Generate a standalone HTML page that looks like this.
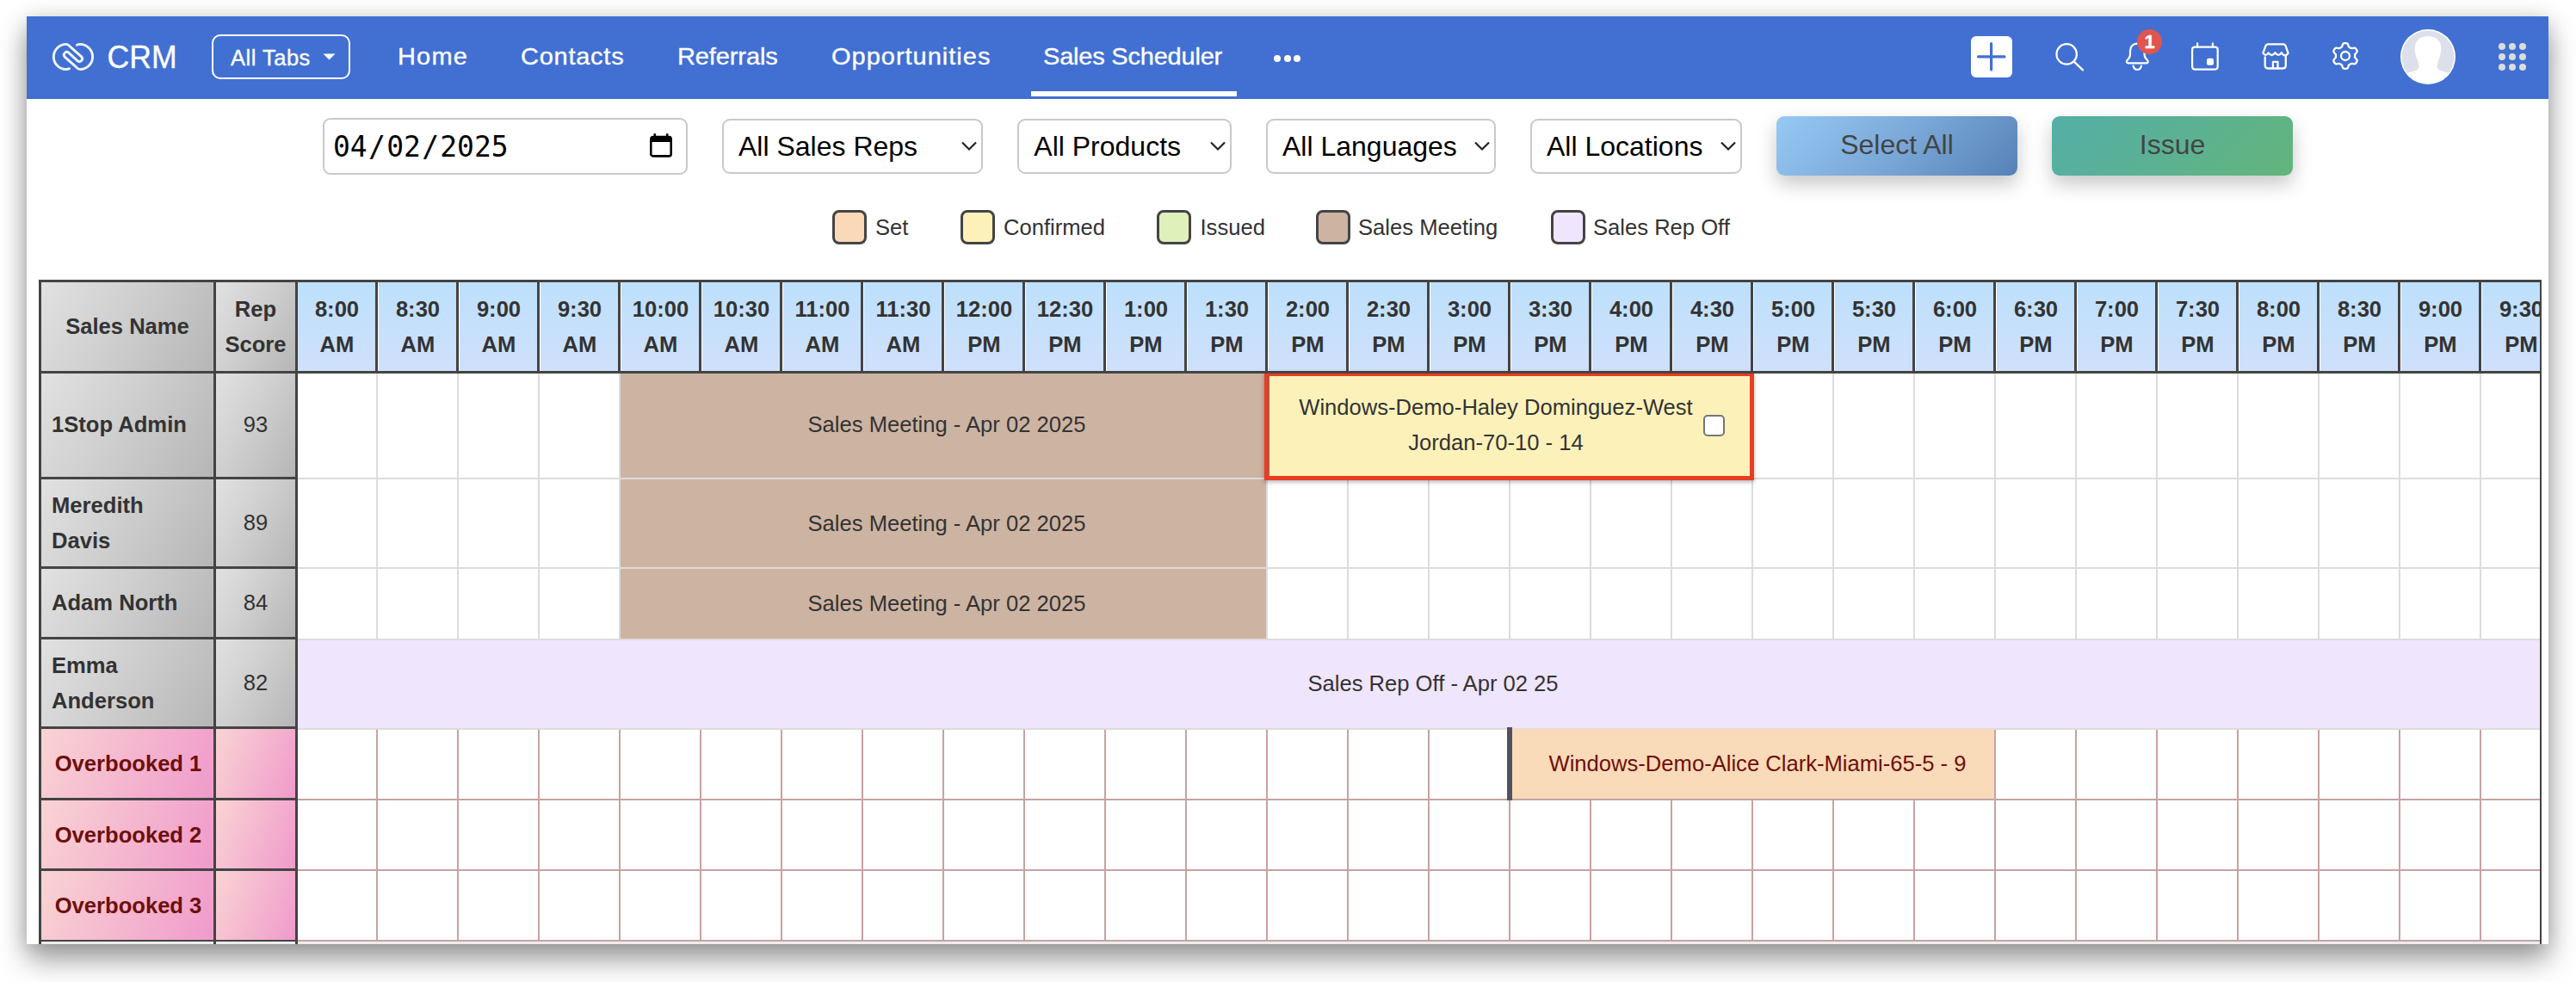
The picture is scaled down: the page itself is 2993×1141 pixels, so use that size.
<!DOCTYPE html>
<html lang="en"><head><meta charset="utf-8"><title>Sales Scheduler</title>
<style>
*{box-sizing:border-box;margin:0;padding:0}
html,body{width:2993px;height:1141px;background:#fff;overflow:hidden}
body{position:relative;font-family:"Liberation Sans",sans-serif;color:#333}
.win{position:absolute;left:31px;top:19px;width:2930px;height:1078px;background:#fff;overflow:hidden}
.shadow{position:absolute;left:31px;top:19px;width:2930px;height:1078px;box-shadow:0 18px 31px rgba(0,0,0,.39),0 0 22px rgba(0,0,0,.13)}
.abs{position:absolute}
.nav{position:absolute;left:0;top:0;width:2930px;height:96px;background:#4170d2}
.nav .t{position:absolute;color:#fff;white-space:nowrap;line-height:1;-webkit-text-stroke:.35px #fff}
.ctl{position:absolute;border:2px solid #c9c9c9;border-radius:9px;background:#fff;color:#000;white-space:nowrap}
.ctl span{position:absolute;line-height:1}
.ctl i{font-style:normal;padding:0 1.25px}
.btn{position:absolute;border-radius:9px;color:#444;font-size:32px;text-align:center;white-space:nowrap;box-shadow:0 10px 22px rgba(0,0,0,.22)}
.lg{position:absolute;width:40px;height:40px;border:3px solid #444;border-radius:8px}
.lt{position:absolute;font-size:25.6px;line-height:1;color:#333;white-space:nowrap}
.tw{position:absolute;overflow:hidden;background:#fff}
.c{position:absolute;display:flex;align-items:center;justify-content:center;text-align:center;font-size:25.6px;line-height:40.96px;color:#333;white-space:nowrap}
.b{font-weight:bold}
.hg{background:linear-gradient(120deg,#e1e1e1 0%,#cfcfcf 45%,#b6b6b6 100%)}
.hb{background:linear-gradient(180deg,#bde0fc 0%,#cfe0fb 100%)}
.pk{background:linear-gradient(112deg,#f9d4d3 0%,#f4b4cf 55%,#f09acb 100%);color:#6e0f0a;padding-left:2px;padding-top:1.5px}
.d{position:absolute;background:#444}
.l{position:absolute;background:#dcdcdc}
.p{position:absolute;background:#c7a2a2}
.left{justify-content:flex-start;text-align:left;padding-left:12px}
</style></head><body>
<div class="shadow"></div>
<div class="win">
<div class="nav">
<svg class="abs" style="left:19px;top:16px" width="70" height="62" viewBox="0 0 70 62" fill="none" stroke="#f1f4fc" stroke-width="2.9" stroke-linecap="round" stroke-linejoin="round"><path d="M30.6 44.7Q28.5 45.6 26.9 45.6A14.6 14.6 0 0 1 12.3 31A14.6 14.6 0 0 1 26.9 16.4C29.2 16.4 30.7 18.4 32.2 19.8L44.7 30.9A3.35 3.35 0 0 1 40.3 35.9L29.6 26.1A3.35 3.35 0 0 0 25.2 31.1L37.7 42.2C39.2 43.6 40.7 45.6 43 45.6A14.6 14.6 0 0 0 57.6 31A14.6 14.6 0 0 0 43 16.4Q41 16.4 39.3 17.2"/></svg>
<div class="t" style="left:93.5px;top:28px;font-size:35.6px;line-height:38px;transform:scaleY(1.06)">CRM</div>
<div class="abs" style="left:215px;top:21px;width:161px;height:52px;border:2px solid #fff;border-radius:10px"></div>
<div class="t" style="left:237px;top:34px;font-size:25.5px;line-height:28px;letter-spacing:.5px">All Tabs</div>
<svg class="abs" style="left:344px;top:43px" width="16" height="8" viewBox="0 0 16 8"><path d="M0.5 0.5h14L7.5 7.5z" fill="#fff"/></svg>
<div class="t" style="left:430.5px;top:31px;font-size:27.4px;line-height:32px;letter-spacing:1.13px;transform:scaleX(1.058);transform-origin:0 50%">Home</div>
<div class="t" style="left:573.8px;top:31px;font-size:27.4px;line-height:32px;letter-spacing:0.71px;transform:scaleX(1.058);transform-origin:0 50%">Contacts</div>
<div class="t" style="left:755.5px;top:31px;font-size:27.4px;line-height:32px;letter-spacing:-0.10px;transform:scaleX(1.058);transform-origin:0 50%">Referrals</div>
<div class="t" style="left:934.5px;top:31px;font-size:27.4px;line-height:32px;letter-spacing:0.95px;transform:scaleX(1.058);transform-origin:0 50%">Opportunities</div>
<div class="t" style="left:1181.3px;top:31px;font-size:27.4px;line-height:32px;letter-spacing:-0.19px;transform:scaleX(1.058);transform-origin:0 50%">Sales Scheduler</div>
<div class="abs" style="left:1166.5px;top:87px;width:239px;height:6px;background:#fff"></div>
<div class="abs" style="left:1448.6px;top:45px;width:8px;height:8px;border-radius:50%;background:#fff"></div>
<div class="abs" style="left:1460.5px;top:45px;width:8px;height:8px;border-radius:50%;background:#fff"></div>
<div class="abs" style="left:1472.4px;top:45px;width:8px;height:8px;border-radius:50%;background:#fff"></div>
<div class="abs" style="left:2259px;top:23px;width:48px;height:48px;border-radius:6px;background:#fff"></div>
<svg class="abs" style="left:2259px;top:23px" width="48" height="48" viewBox="0 0 48 48" stroke="#4170d2" stroke-width="3.2" stroke-linecap="round"><path d="M8.5 23.8H39M23.6 8.5V39"/></svg>
<svg class="abs" style="left:2349px;top:21px" width="50" height="50" viewBox="0 0 50 50" fill="none" stroke="#fff" stroke-width="2.2" stroke-linecap="round"><circle cx="21.2" cy="22.9" r="11.7"/><path d="M29.6 31.4L40 41.4"/></svg>
<svg class="abs" style="left:2429px;top:21px" width="50" height="50" viewBox="0 0 50 50" fill="none" stroke="#fff" stroke-width="2.2" stroke-linecap="round" stroke-linejoin="round"><path d="M23.3 10.6c-5 0-8.3 3.6-8.3 8.6v4.2c0 3-1.4 4.6-3.4 6.6c-1.4 1.4-.8 3.4 1.3 3.4h20.8c2.1 0 2.7-2 1.3-3.4c-2-2-3.4-3.6-3.4-6.6v-4.2c0-5-3.3-8.6-8.3-8.6z"/><path d="M18.6 36.6c.6 2.8 2.4 4.4 4.7 4.4s4.1-1.6 4.7-4.4"/></svg>
<div class="abs" style="left:2452px;top:15.399999999999999px;width:29px;height:29px;border-radius:50%;background:#e0554f"></div>
<div class="t b" style="left:2452px;top:19px;width:29px;text-align:center;font-size:22px;line-height:22px">1</div>
<svg class="abs" style="left:2509px;top:25px" width="44" height="44" viewBox="0 0 44 44" fill="none" stroke="#fff" stroke-width="2.2" stroke-linecap="round"><rect x="7.1" y="10.6" width="29.6" height="26" rx="3"/><path d="M13.1 6.3v4M30.9 6.3v4"/><rect x="24" y="23.7" width="8" height="8" rx="2" fill="#fff" stroke="none"/></svg>
<svg class="abs" style="left:2589px;top:25px" width="48" height="44" viewBox="0 0 48 44" fill="none" stroke="#fff" stroke-width="2.3" stroke-linecap="round" stroke-linejoin="round"><path d="M9.4 17.6L12.3 9.600Q13.100 7.400 15.400 7.400H32.600Q34.900 7.400 35.700 9.600L38.600 17.900Q34.800 23.200 30.800 17.300Q27.200 22.600 23.500 17.300Q19.500 22.600 15.500 17.500Q12.500 22.300 9.400 17.600Z"/><path d="M11.700 22.500V32Q11.700 35.500 15.200 35.500H32.300Q35.800 35.500 35.800 32V21.500"/><path d="M20.900 35.300V27.900H26.500V35.300"/></svg>
<svg class="abs" style="left:2672px;top:24.4px" width="44" height="44" viewBox="0 0 44 44" fill="none" stroke="#fff" stroke-width="2.3" stroke-linejoin="round"><path d="M33.1 22.0L33.1 22.6L33.1 23.2L33.2 23.8L33.7 24.5L34.6 25.4L35.4 26.4L35.7 27.2L35.5 28.0L35.3 28.8L34.9 29.4L34.5 30.1L34.0 30.7L33.4 31.2L32.5 31.4L31.2 31.2L30.0 30.9L29.2 30.8L28.6 31.0L28.1 31.3L27.6 31.6L27.0 31.9L26.5 32.2L26.1 32.6L25.7 33.3L25.4 34.6L24.9 35.8L24.3 36.4L23.5 36.7L22.8 36.9L22.0 36.9L21.2 36.9L20.5 36.7L19.7 36.4L19.1 35.8L18.6 34.6L18.3 33.3L17.9 32.6L17.5 32.2L17.0 31.9L16.5 31.6L15.9 31.3L15.4 31.0L14.8 30.8L14.0 30.9L12.8 31.2L11.5 31.4L10.6 31.2L10.0 30.7L9.5 30.1L9.1 29.4L8.7 28.8L8.5 28.0L8.3 27.2L8.6 26.4L9.4 25.4L10.3 24.5L10.8 23.8L10.9 23.2L10.9 22.6L10.9 22.0L10.9 21.4L10.9 20.8L10.8 20.2L10.3 19.5L9.4 18.6L8.6 17.6L8.3 16.8L8.5 16.0L8.7 15.2L9.1 14.5L9.5 13.9L10.0 13.3L10.6 12.8L11.5 12.6L12.8 12.8L14.0 13.1L14.8 13.2L15.4 13.0L15.9 12.7L16.4 12.4L17.0 12.1L17.5 11.8L17.9 11.4L18.3 10.7L18.6 9.4L19.1 8.2L19.7 7.6L20.5 7.3L21.2 7.1L22.0 7.1L22.8 7.1L23.5 7.3L24.3 7.6L24.9 8.2L25.4 9.4L25.7 10.7L26.1 11.4L26.5 11.8L27.0 12.1L27.6 12.4L28.1 12.7L28.6 13.0L29.2 13.2L30.0 13.1L31.2 12.8L32.5 12.6L33.4 12.8L34.0 13.3L34.5 13.9L34.9 14.5L35.3 15.2L35.5 16.0L35.7 16.8L35.4 17.6L34.6 18.6L33.7 19.5L33.2 20.2L33.1 20.8L33.1 21.4Z"/><circle cx="22" cy="22" r="5"/></svg>
<svg class="abs" style="left:2756px;top:13px" width="68" height="68" viewBox="0 0 68 68"><defs><clipPath id="av"><circle cx="34" cy="34" r="30.4"/></clipPath></defs><circle cx="34" cy="34" r="32" fill="#fff"/><circle cx="34" cy="34" r="30.4" fill="#dde0ea"/><g clip-path="url(#av)" fill="#fff"><path d="M34 10c-9 0-15.8 5.500-15.3 15c.3 5.500 1.600 9.500 3.100 13c1 2.500 1.800 5.500 1.700 7.500c-.2 2-1.500 3.500-3.500 4.300c-3.500 1.400-8 2-12 4l-4 14h60l-4-14c-4-2-8.500-2.600-12-4c-2-.8-3.300-2.300-3.500-4.300c-.1-2 .7-5 1.700-7.500c1.500-3.500 2.800-7.500 3.100-13c.5-9.500-6.300-15-15.300-15z"/></g></svg>
<div class="abs" style="left:2871.8px;top:30.8px;width:8.4px;height:8.4px;border-radius:50%;background:#dcdcdc"></div>
<div class="abs" style="left:2883.9px;top:30.8px;width:8.4px;height:8.4px;border-radius:50%;background:#dcdcdc"></div>
<div class="abs" style="left:2895.9px;top:30.8px;width:8.4px;height:8.4px;border-radius:50%;background:#dcdcdc"></div>
<div class="abs" style="left:2871.8px;top:42.8px;width:8.4px;height:8.4px;border-radius:50%;background:#dcdcdc"></div>
<div class="abs" style="left:2883.9px;top:42.8px;width:8.4px;height:8.4px;border-radius:50%;background:#dcdcdc"></div>
<div class="abs" style="left:2895.9px;top:42.8px;width:8.4px;height:8.4px;border-radius:50%;background:#dcdcdc"></div>
<div class="abs" style="left:2871.8px;top:54.8px;width:8.4px;height:8.4px;border-radius:50%;background:#dcdcdc"></div>
<div class="abs" style="left:2883.9px;top:54.8px;width:8.4px;height:8.4px;border-radius:50%;background:#dcdcdc"></div>
<div class="abs" style="left:2895.9px;top:54.8px;width:8.4px;height:8.4px;border-radius:50%;background:#dcdcdc"></div>
</div>
<div class="ctl" style="left:344px;top:118px;width:424px;height:66px"><span style="left:10px;top:15px;font-family:'DejaVu Sans Mono','Liberation Mono',monospace;font-size:33px;line-height:34px">04<i>/</i>02<i>/</i>2025</span><svg class="abs" style="left:376px;top:15px" width="30" height="32" viewBox="0 0 30 32"><path d="M7.8 1.2v5M22.2 1.2v5" stroke="#000" stroke-width="2.6"/><rect x="3.3" y="5" width="23.4" height="22.4" rx="2.5" fill="none" stroke="#000" stroke-width="2.6"/><rect x="3" y="5" width="24" height="6" fill="#000"/></svg></div>
<div class="ctl" style="left:808px;top:119px;width:303px;height:64px"><span style="left:17px;top:14px;font-size:32px;line-height:32px">All Sales Reps</span><svg class="abs" style="left:275px;top:24px" width="20" height="12" viewBox="0 0 20 12" fill="none" stroke="#222" stroke-width="2.2"><path d="M2 1.500L10 9.500L18 1.500"/></svg></div>
<div class="ctl" style="left:1151px;top:119px;width:248.5px;height:64px"><span style="left:17.3px;top:14px;font-size:32px;line-height:32px">All Products</span><svg class="abs" style="left:220.5px;top:24px" width="20" height="12" viewBox="0 0 20 12" fill="none" stroke="#222" stroke-width="2.2"><path d="M2 1.500L10 9.500L18 1.500"/></svg></div>
<div class="ctl" style="left:1440px;top:119px;width:267px;height:64px"><span style="left:17px;top:14px;font-size:32px;line-height:32px">All Languages</span><svg class="abs" style="left:239px;top:24px" width="20" height="12" viewBox="0 0 20 12" fill="none" stroke="#222" stroke-width="2.2"><path d="M2 1.500L10 9.500L18 1.500"/></svg></div>
<div class="ctl" style="left:1747px;top:119px;width:245.70000000000005px;height:64px"><span style="left:17px;top:14px;font-size:32px;line-height:32px">All Locations</span><svg class="abs" style="left:217.70000000000005px;top:24px" width="20" height="12" viewBox="0 0 20 12" fill="none" stroke="#222" stroke-width="2.2"><path d="M2 1.500L10 9.500L18 1.500"/></svg></div>
<div class="btn" style="left:2033px;top:116px;width:280px;height:69px;line-height:67px;background:linear-gradient(135deg,#97c9f5 0%,#79a7d7 52%,#5681b7 100%)">Select All</div>
<div class="btn" style="left:2353px;top:116px;width:280px;height:69px;line-height:67px;background:linear-gradient(135deg,#54afa7 0%,#5cb192 52%,#63b57a 100%)">Issue</div>
<div class="lg" style="left:936px;top:225px;background:#f9d9b8"></div>
<div class="lt" style="left:986px;top:233px">Set</div>
<div class="lg" style="left:1085px;top:225px;background:#fdf1b9"></div>
<div class="lt" style="left:1135px;top:233px">Confirmed</div>
<div class="lg" style="left:1313px;top:225px;background:#dff0bb"></div>
<div class="lt" style="left:1363.5px;top:233px">Issued</div>
<div class="lg" style="left:1498px;top:225px;background:#cdb3a2"></div>
<div class="lt" style="left:1547px;top:233px">Sales Meeting</div>
<div class="lg" style="left:1771px;top:225px;background:#efe5fc"></div>
<div class="lt" style="left:1820px;top:233px">Sales Rep Off</div>
<div class="tw" style="left:14px;top:306px;width:2908px;height:816px">
<div class="c b hg" style="left:3px;top:3px;width:200px;height:103px">Sales Name</div>
<div class="c b hg" style="left:206px;top:3px;width:92px;height:103px">Rep<br>Score</div>
<div class="c b hb" style="left:301px;top:3px;width:91px;height:103px">8:00<br>AM</div>
<div class="c b hb" style="left:395px;top:3px;width:91px;height:103px">8:30<br>AM</div>
<div class="c b hb" style="left:489px;top:3px;width:91px;height:103px">9:00<br>AM</div>
<div class="c b hb" style="left:583px;top:3px;width:91px;height:103px">9:30<br>AM</div>
<div class="c b hb" style="left:677px;top:3px;width:91px;height:103px">10:00<br>AM</div>
<div class="c b hb" style="left:771px;top:3px;width:91px;height:103px">10:30<br>AM</div>
<div class="c b hb" style="left:865px;top:3px;width:91px;height:103px">11:00<br>AM</div>
<div class="c b hb" style="left:959px;top:3px;width:91px;height:103px">11:30<br>AM</div>
<div class="c b hb" style="left:1053px;top:3px;width:91px;height:103px">12:00<br>PM</div>
<div class="c b hb" style="left:1147px;top:3px;width:91px;height:103px">12:30<br>PM</div>
<div class="c b hb" style="left:1241px;top:3px;width:91px;height:103px">1:00<br>PM</div>
<div class="c b hb" style="left:1335px;top:3px;width:91px;height:103px">1:30<br>PM</div>
<div class="c b hb" style="left:1429px;top:3px;width:91px;height:103px">2:00<br>PM</div>
<div class="c b hb" style="left:1523px;top:3px;width:91px;height:103px">2:30<br>PM</div>
<div class="c b hb" style="left:1617px;top:3px;width:91px;height:103px">3:00<br>PM</div>
<div class="c b hb" style="left:1711px;top:3px;width:91px;height:103px">3:30<br>PM</div>
<div class="c b hb" style="left:1805px;top:3px;width:91px;height:103px">4:00<br>PM</div>
<div class="c b hb" style="left:1899px;top:3px;width:91px;height:103px">4:30<br>PM</div>
<div class="c b hb" style="left:1993px;top:3px;width:91px;height:103px">5:00<br>PM</div>
<div class="c b hb" style="left:2087px;top:3px;width:91px;height:103px">5:30<br>PM</div>
<div class="c b hb" style="left:2181px;top:3px;width:91px;height:103px">6:00<br>PM</div>
<div class="c b hb" style="left:2275px;top:3px;width:91px;height:103px">6:30<br>PM</div>
<div class="c b hb" style="left:2369px;top:3px;width:91px;height:103px">7:00<br>PM</div>
<div class="c b hb" style="left:2463px;top:3px;width:91px;height:103px">7:30<br>PM</div>
<div class="c b hb" style="left:2557px;top:3px;width:91px;height:103px">8:00<br>PM</div>
<div class="c b hb" style="left:2651px;top:3px;width:91px;height:103px">8:30<br>PM</div>
<div class="c b hb" style="left:2745px;top:3px;width:91px;height:103px">9:00<br>PM</div>
<div class="c b hb" style="left:2839px;top:3px;width:91px;height:103px">9:30<br>PM</div>
<div class="c" style="left:676px;top:109px;width:750px;height:121px;background:#cdb3a2;padding-left:8px;padding-bottom:2px;">Sales Meeting - Apr 02 2025</div>
<div class="c" style="left:676px;top:232px;width:750px;height:102px;background:#cdb3a2;padding-left:8px;">Sales Meeting - Apr 02 2025</div>
<div class="c" style="left:676px;top:336px;width:750px;height:81px;background:#cdb3a2;padding-left:8px;">Sales Meeting - Apr 02 2025</div>
<div class="c" style="left:301px;top:419px;width:2632px;height:102px;background:#efe5fc;padding-left:6px;padding-bottom:1px">Sales Rep Off - Apr 02 25</div>
<div class="l" style="left:392px;top:109px;width:2px;height:310px"></div>
<div class="p" style="left:392px;top:523px;width:2px;height:293px"></div>
<div class="l" style="left:486px;top:109px;width:2px;height:310px"></div>
<div class="p" style="left:486px;top:523px;width:2px;height:293px"></div>
<div class="l" style="left:580px;top:109px;width:2px;height:310px"></div>
<div class="p" style="left:580px;top:523px;width:2px;height:293px"></div>
<div class="l" style="left:674px;top:109px;width:2px;height:310px"></div>
<div class="p" style="left:674px;top:523px;width:2px;height:293px"></div>
<div class="p" style="left:768px;top:523px;width:2px;height:293px"></div>
<div class="p" style="left:862px;top:523px;width:2px;height:293px"></div>
<div class="p" style="left:956px;top:523px;width:2px;height:293px"></div>
<div class="p" style="left:1050px;top:523px;width:2px;height:293px"></div>
<div class="p" style="left:1144px;top:523px;width:2px;height:293px"></div>
<div class="p" style="left:1238px;top:523px;width:2px;height:293px"></div>
<div class="p" style="left:1332px;top:523px;width:2px;height:293px"></div>
<div class="l" style="left:1426px;top:109px;width:2px;height:310px"></div>
<div class="p" style="left:1426px;top:523px;width:2px;height:293px"></div>
<div class="l" style="left:1520px;top:109px;width:2px;height:310px"></div>
<div class="p" style="left:1520px;top:523px;width:2px;height:293px"></div>
<div class="l" style="left:1614px;top:109px;width:2px;height:310px"></div>
<div class="p" style="left:1614px;top:523px;width:2px;height:293px"></div>
<div class="l" style="left:1708px;top:109px;width:2px;height:310px"></div>
<div class="p" style="left:1708px;top:523px;width:2px;height:293px"></div>
<div class="l" style="left:1802px;top:109px;width:2px;height:310px"></div>
<div class="p" style="left:1802px;top:523px;width:2px;height:293px"></div>
<div class="l" style="left:1896px;top:109px;width:2px;height:310px"></div>
<div class="p" style="left:1896px;top:523px;width:2px;height:293px"></div>
<div class="l" style="left:1990px;top:109px;width:2px;height:310px"></div>
<div class="p" style="left:1990px;top:523px;width:2px;height:293px"></div>
<div class="l" style="left:2084px;top:109px;width:2px;height:310px"></div>
<div class="p" style="left:2084px;top:523px;width:2px;height:293px"></div>
<div class="l" style="left:2178px;top:109px;width:2px;height:310px"></div>
<div class="p" style="left:2178px;top:523px;width:2px;height:293px"></div>
<div class="l" style="left:2272px;top:109px;width:2px;height:310px"></div>
<div class="p" style="left:2272px;top:523px;width:2px;height:293px"></div>
<div class="l" style="left:2366px;top:109px;width:2px;height:310px"></div>
<div class="p" style="left:2366px;top:523px;width:2px;height:293px"></div>
<div class="l" style="left:2460px;top:109px;width:2px;height:310px"></div>
<div class="p" style="left:2460px;top:523px;width:2px;height:293px"></div>
<div class="l" style="left:2554px;top:109px;width:2px;height:310px"></div>
<div class="p" style="left:2554px;top:523px;width:2px;height:293px"></div>
<div class="l" style="left:2648px;top:109px;width:2px;height:310px"></div>
<div class="p" style="left:2648px;top:523px;width:2px;height:293px"></div>
<div class="l" style="left:2742px;top:109px;width:2px;height:310px"></div>
<div class="p" style="left:2742px;top:523px;width:2px;height:293px"></div>
<div class="l" style="left:2836px;top:109px;width:2px;height:310px"></div>
<div class="p" style="left:2836px;top:523px;width:2px;height:293px"></div>
<div class="l" style="left:301px;top:230px;width:2700px;height:2px"></div>
<div class="l" style="left:301px;top:334px;width:2700px;height:2px"></div>
<div class="l" style="left:301px;top:417px;width:2700px;height:2px"></div>
<div class="l" style="left:301px;top:521px;width:2700px;height:2px"></div>
<div class="p" style="left:301px;top:603px;width:2700px;height:2px"></div>
<div class="p" style="left:301px;top:685px;width:2700px;height:2px"></div>
<div class="p" style="left:301px;top:767px;width:2700px;height:2px"></div>
<div class="c" style="left:1712px;top:522px;width:560px;height:81px;background:#f9dab9;color:#6e0f0a;padding-left:10px">Windows-Demo-Alice Clark-Miami-65-5 - 9</div>
<div class="abs" style="left:1706px;top:520px;width:6px;height:85px;background:#53525f"></div>
<div class="abs" style="left:1424px;top:107px;width:569px;height:126px;background:#fdf1ba;border:5px solid #e93d22;box-shadow:0 2px 5px rgba(0,0,0,.3)"></div>
<div class="abs" style="left:1429px;top:112px;width:1px;height:116px;background:rgba(70,70,80,.75)"></div>
<div class="c" style="left:1443px;top:106px;width:500px;height:126px">Windows-Demo-Haley Dominguez-West<br>Jordan-70-10 - 14</div>
<div class="abs" style="left:1934px;top:157px;width:25px;height:25px;border:2px solid #767676;border-radius:5px;background:#fff"></div>
<div class="c b hg left" style="left:3px;top:109px;width:200px;height:120px;padding-bottom:2px;">1Stop Admin</div>
<div class="c hg" style="left:206px;top:109px;width:92px;height:120px;padding-bottom:2px;">93</div>
<div class="d" style="left:0px;top:229px;width:301px;height:3px"></div>
<div class="c b hg left" style="left:3px;top:232px;width:200px;height:101px;">Meredith<br>Davis</div>
<div class="c hg" style="left:206px;top:232px;width:92px;height:101px;">89</div>
<div class="d" style="left:0px;top:333px;width:301px;height:3px"></div>
<div class="c b hg left" style="left:3px;top:336px;width:200px;height:79px;">Adam North</div>
<div class="c hg" style="left:206px;top:336px;width:92px;height:79px;">84</div>
<div class="d" style="left:0px;top:415px;width:301px;height:3px"></div>
<div class="c b hg left" style="left:3px;top:418px;width:200px;height:101px;">Emma<br>Anderson</div>
<div class="c hg" style="left:206px;top:418px;width:92px;height:101px;">82</div>
<div class="d" style="left:0px;top:519px;width:301px;height:3px"></div>
<div class="c b pk" style="left:3px;top:522px;width:200px;height:80px;">Overbooked 1</div>
<div class="c pk" style="left:206px;top:522px;width:92px;height:80px;"></div>
<div class="d" style="left:0px;top:602px;width:301px;height:3px"></div>
<div class="c b pk" style="left:3px;top:605px;width:200px;height:79px;">Overbooked 2</div>
<div class="c pk" style="left:206px;top:605px;width:92px;height:79px;"></div>
<div class="d" style="left:0px;top:684px;width:301px;height:3px"></div>
<div class="c b pk" style="left:3px;top:687px;width:200px;height:80px;">Overbooked 3</div>
<div class="c pk" style="left:206px;top:687px;width:92px;height:80px;"></div>
<div class="d" style="left:0px;top:767px;width:301px;height:2px"></div>
<div class="abs" style="left:3px;top:769px;width:2908px;height:6px;background:#ececec"></div>
<div class="d" style="left:0;top:0;width:2908px;height:3px"></div>
<div class="d" style="left:0;top:106px;width:2908px;height:3px"></div>
<div class="d" style="left:0;top:0;width:3px;height:816px"></div>
<div class="d" style="left:203px;top:0;width:3px;height:816px"></div>
<div class="d" style="left:298px;top:0;width:3px;height:816px"></div>
<div class="d" style="left:391px;top:0;width:3px;height:106px"></div>
<div class="d" style="left:485px;top:0;width:3px;height:106px"></div>
<div class="d" style="left:579px;top:0;width:3px;height:106px"></div>
<div class="d" style="left:673px;top:0;width:3px;height:106px"></div>
<div class="d" style="left:767px;top:0;width:3px;height:106px"></div>
<div class="d" style="left:861px;top:0;width:3px;height:106px"></div>
<div class="d" style="left:955px;top:0;width:3px;height:106px"></div>
<div class="d" style="left:1049px;top:0;width:3px;height:106px"></div>
<div class="d" style="left:1143px;top:0;width:3px;height:106px"></div>
<div class="d" style="left:1237px;top:0;width:3px;height:106px"></div>
<div class="d" style="left:1331px;top:0;width:3px;height:106px"></div>
<div class="d" style="left:1425px;top:0;width:3px;height:106px"></div>
<div class="d" style="left:1519px;top:0;width:3px;height:106px"></div>
<div class="d" style="left:1613px;top:0;width:3px;height:106px"></div>
<div class="d" style="left:1707px;top:0;width:3px;height:106px"></div>
<div class="d" style="left:1801px;top:0;width:3px;height:106px"></div>
<div class="d" style="left:1895px;top:0;width:3px;height:106px"></div>
<div class="d" style="left:1989px;top:0;width:3px;height:106px"></div>
<div class="d" style="left:2083px;top:0;width:3px;height:106px"></div>
<div class="d" style="left:2177px;top:0;width:3px;height:106px"></div>
<div class="d" style="left:2271px;top:0;width:3px;height:106px"></div>
<div class="d" style="left:2365px;top:0;width:3px;height:106px"></div>
<div class="d" style="left:2459px;top:0;width:3px;height:106px"></div>
<div class="d" style="left:2553px;top:0;width:3px;height:106px"></div>
<div class="d" style="left:2647px;top:0;width:3px;height:106px"></div>
<div class="d" style="left:2741px;top:0;width:3px;height:106px"></div>
<div class="d" style="left:2835px;top:0;width:3px;height:106px"></div>
<div class="d" style="left:2929px;top:0;width:3px;height:106px"></div>
<div class="d" style="left:2906px;top:0;width:2px;height:816px"></div>
</div>
</div>
</body></html>
